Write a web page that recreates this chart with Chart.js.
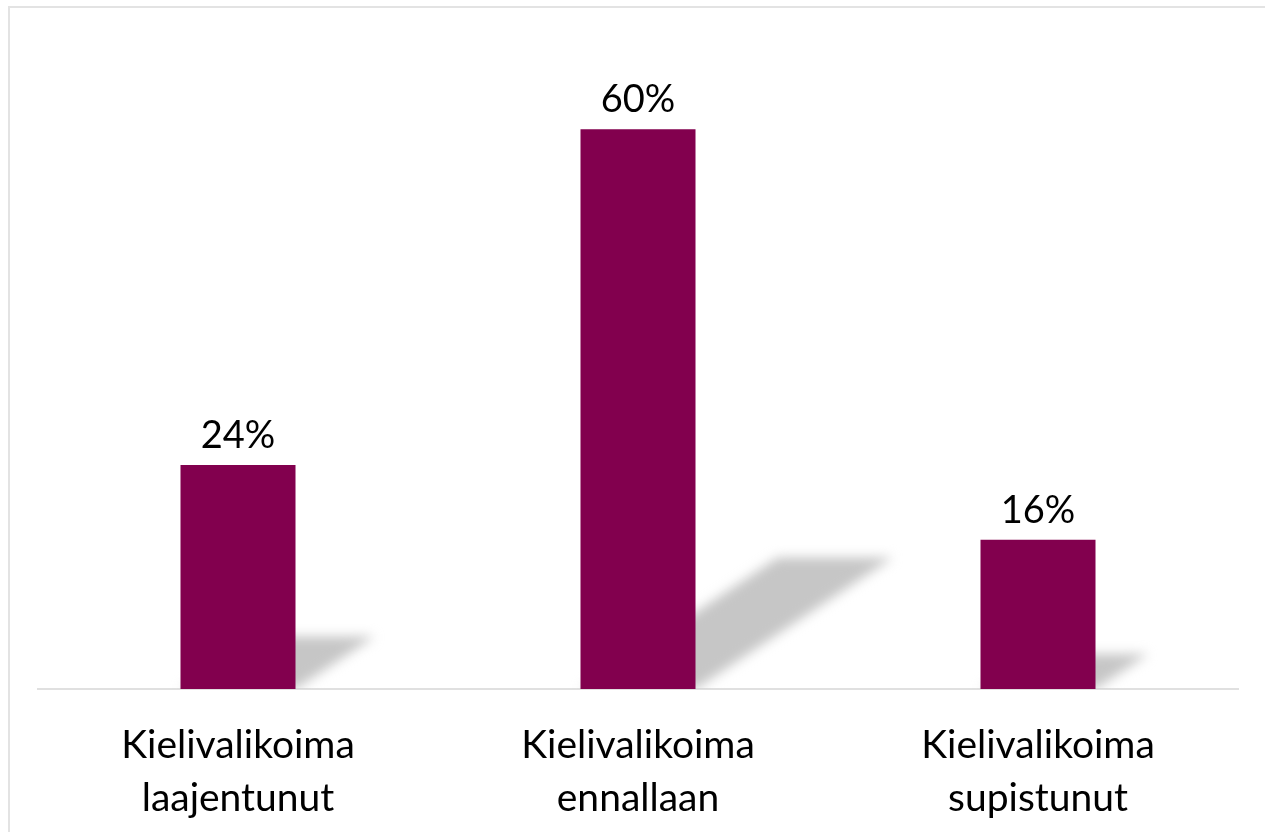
<!DOCTYPE html>
<html>
<head>
<meta charset="utf-8">
<script src="https://cdn.jsdelivr.net/npm/chart.js@4.4.1/dist/chart.umd.min.js"></script>
<style>
  html, body { margin: 0; padding: 0; background: #fff; }
  #wrap { width: 1265px; height: 832px; position: relative; }
</style>
</head>
<body>
<div id="wrap"><canvas id="kieliChart"></canvas></div>
<script>
// data
const categories = [["Kielivalikoima", "laajentunut"], ["Kielivalikoima", "ennallaan"], ["Kielivalikoima", "supistunut"]];
const shares = [24, 60, 16];

const barColor = "#82004e";
const fontFamily = "Lato, 'Open Sans', sans-serif";

// frame + perspective shadows behind the bars
const shadowPlugin = {
  id: "shadows",
  beforeDraw(chart) {
    const ctx = chart.ctx;
    ctx.save();
    ctx.strokeStyle = "#e3e3e3";
    ctx.lineWidth = 2;
    ctx.strokeRect(9, 7, 1400, 1000);
    ctx.restore();
  },
  beforeDatasetsDraw(chart) {
    const ctx = chart.ctx;
    const meta = chart.getDatasetMeta(0);
    ctx.save();
    ctx.beginPath();
    ctx.rect(chart.chartArea.left, 0, chart.chartArea.right - chart.chartArea.left, chart.chartArea.bottom);
    ctx.clip();
    ctx.filter = "blur(6px)";
    ctx.fillStyle = "#c6c6c6";
    meta.data.forEach(bar => {
      const p = bar.getProps(["x", "y", "base", "width"], true);
      const left = p.x - p.width / 2, right = p.x + p.width / 2;
      const h = (p.base - p.y) * 0.235;
      const dx = h * 1.5;
      ctx.beginPath();
      ctx.moveTo(left, p.base);
      ctx.lineTo(right, p.base);
      ctx.lineTo(right + dx, p.base - h);
      ctx.lineTo(left + dx, p.base - h);
      ctx.closePath();
      ctx.fill();
    });
    ctx.restore();
  },
  afterDatasetsDraw(chart) {
    const ctx = chart.ctx;
    const meta = chart.getDatasetMeta(0);
    ctx.save();
    ctx.fillStyle = "#000";
    ctx.font = "38px " + fontFamily;
    ctx.textAlign = "center";
    ctx.textBaseline = "alphabetic";
    meta.data.forEach((bar, i) => {
      const p = bar.getProps(["x", "y"], true);
      ctx.fillText(shares[i] + "%", p.x, p.y - 17);
    });
    ctx.restore();
  }
};

const kieliChart = new Chart("kieliChart", {
  type: "bar",
  data: {
    labels: categories,
    datasets: [{
      label: "Osuus",
      backgroundColor: barColor,
      data: shares,
      barPercentage: 0.2875,
      categoryPercentage: 1
    }]
  },
  options: {
    responsive: true,
    maintainAspectRatio: false,
    animation: false,
    layout: { padding: { left: 38, right: 27, top: 36, bottom: 0 } },
    plugins: {
      legend: { display: false },
      tooltip: { enabled: false }
    },
    scales: {
      y: {
        display: false,
        min: 0,
        max: 70
      },
      x: {
        grid: { display: false },
        border: { color: "#e0e0e0", width: 2 },
        ticks: {
          color: "#000",
          font: { family: fontFamily, size: 39, lineHeight: 1.36 },
          padding: 22,
          maxRotation: 0
        },
        afterFit(scale) { scale.height = 143; }
      }
    }
  },
  plugins: [shadowPlugin]
});
</script>
</body>
</html>
